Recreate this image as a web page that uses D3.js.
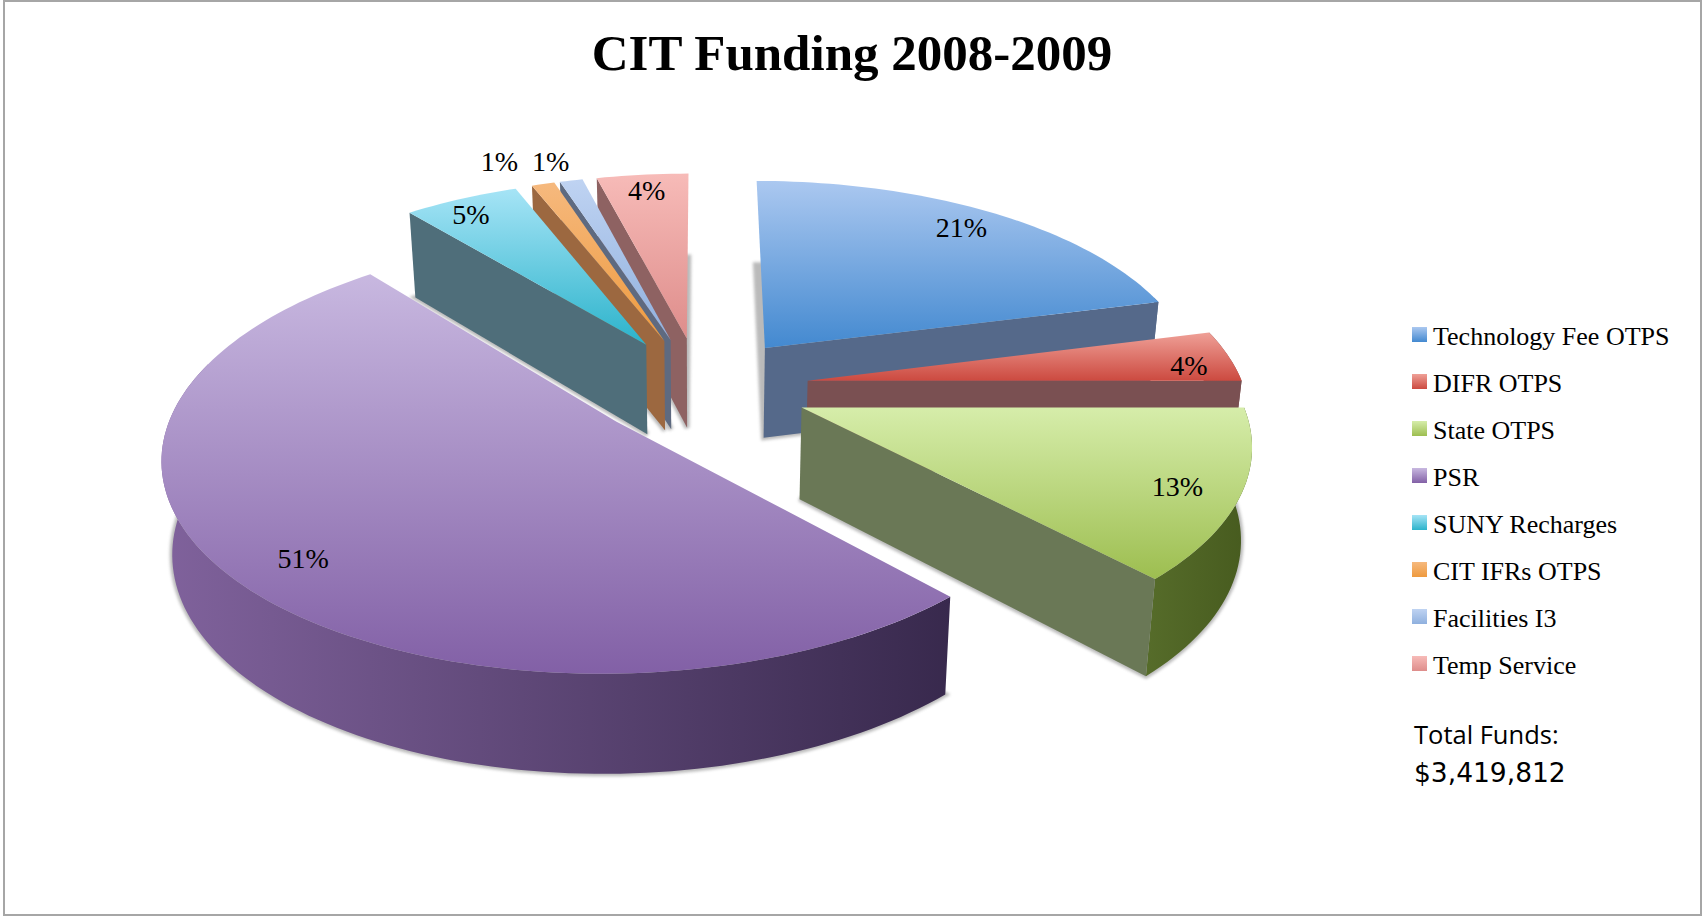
<!DOCTYPE html>
<html>
<head>
<meta charset="utf-8">
<title>CIT Funding 2008-2009</title>
<script src="https://cdn.jsdelivr.net/npm/d3@7"></script>
<style>
  html, body { margin: 0; padding: 0; background: #fff; }
  svg { display: block; }
</style>
</head>
<body>
<div id="chart"></div>
<script>
// Values as printed on the slices, clockwise from 12 o'clock
const categories = ['Technology Fee OTPS', 'DIFR OTPS', 'State OTPS', 'PSR', 'SUNY Recharges', 'CIT IFRs OTPS', 'Facilities I3', 'Temp Service'];
const percents = [21, 4, 13, 51, 5, 1, 1, 4];
const totalLines = ['Total Funds:', '$3,419,812'];

// Colours per slice: top gradient, cut wall, rim gradient
const topLight = ['#abc8f0', '#efa097', '#d6edaa', '#c8b8e0', '#a6e4f6', '#f6b97e', '#bfd3f2', '#f7bbb8'];
const topDark = ['#4389d0', '#cc4a40', '#9dbe50', '#8260a6', '#2bb3cb', '#ee9a3e', '#8fb0de', '#de8d8b'];
const wallColor = ['#55698a', '#7a5052', '#6a7856', '#3f2f57', '#4f6e7a', '#9c6840', '#5e6a80', '#8e6262'];
const rimLeft = ['#55698a', '#7a5052', '#566c2a', '#80629c', '#4f6e7a', '#9c6840', '#5e6a80', '#8e6262'];
const rimRight = ['#55698a', '#7a5052', '#465a1e', '#38294d', '#4f6e7a', '#9c6840', '#5e6a80', '#8e6262'];
// Where each percent label sits: radii from the slice tip, degrees off the slice middle
const labelRadius = [0.873, 0.895, 0.867, 0.851, 0.893, 1.196, 1.148, 0.894];
const labelTurn = [-0.7, 2.2, 0.8, -1.8, -1.5, -3.2, -1.1, 0];

const width = 1702;
const height = 916;
// These parameters set the tilted disc of the pie
const disc = {cx: 700, cy: 387, rx: 436, ry: 203, persp: 0.15, depth: 91, lean: 0.98, explode: 0.25};
const legend = {x: 1412, y: 327, size: 15, step: 47, textX: 1433};

const svg = d3.select('#chart').append('svg')
  .attr('width', width)
  .attr('height', height);

const defs = svg.append('defs');

// Soft shadow around the underside of each slice
defs.append('filter').attr('id', 'blur')
  .attr('x', '-10%').attr('y', '-10%').attr('width', '120%').attr('height', '120%')
  .append('feGaussianBlur')
  .attr('stdDeviation', 1.8);

function gradient(id, from, to, horizontal) {
  const g = defs.append('linearGradient').attr('id', id)
    .attr('x1', 0).attr('y1', 0)
    .attr('x2', horizontal ? 1 : 0).attr('y2', horizontal ? 0 : 1);
  g.append('stop').attr('offset', '0%').attr('stop-color', from);
  g.append('stop').attr('offset', '100%').attr('stop-color', to);
}

categories.forEach((c, i) => {
  gradient(`top${i}`, topLight[i], topDark[i], false);
  gradient(`rim${i}`, rimLeft[i], rimRight[i], true);
});

// Frame
svg.append('rect')
  .attr('x', 4).attr('y', 1)
  .attr('width', 1697).attr('height', 914)
  .attr('fill', 'none')
  .attr('stroke', '#a6a6a6')
  .attr('stroke-width', 2);

// Title
svg.append('text')
  .attr('x', 852)
  .attr('y', 70)
  .attr('text-anchor', 'middle')
  .style('font-family', '"Liberation Serif", serif')
  .style('font-weight', 'bold')
  .style('font-size', '51px')
  .attr('fill', '#000')
  .text('CIT Funding 2008-2009');

// Perspective projection of a point on the disc
function project(u, v) {
  const den = 1 - disc.persp * v;
  return {
    x: disc.cx + disc.rx * u / den,
    y: disc.cy + disc.ry * v / den,
    den: den
  };
}

// The same point pushed down to the underside of the pie
function lower(p) {
  return {
    x: disc.cx + (p.x - disc.cx) * disc.lean,
    y: p.y + disc.depth / Math.sqrt(p.den)
  };
}

const pie = d3.pie().sort(null).startAngle(0).endAngle(2 * Math.PI).value(d => d);
const arcs = pie(percents);
const line = d3.line().x(d => d.x).y(d => d.y);

function offsetOf(d) {
  const mid = (d.startAngle + d.endAngle) / 2;
  return {u: disc.explode * Math.sin(mid), v: -disc.explode * Math.cos(mid)};
}

function pointOn(d, angle, r) {
  const o = offsetOf(d);
  return project(o.u + r * Math.sin(angle), o.v - r * Math.cos(angle));
}

function rimAngles(d) {
  const n = Math.max(4, Math.ceil((d.endAngle - d.startAngle) * 40));
  return d3.range(n + 1).map(k => d.startAngle + (d.endAngle - d.startAngle) * k / n);
}

function rimPoints(d) {
  return rimAngles(d).map(a => pointOn(d, a, 1));
}

function labelPoint(d, i) {
  const mid = (d.startAngle + d.endAngle) / 2 + labelTurn[i] * Math.PI / 180;
  return pointOn(d, mid, labelRadius[i]);
}

// Rear slices first, PSR last
const drawOrder = [7, 6, 5, 4, 0, 1, 2, 3];

const slices = svg.append('g').selectAll('.slice')
  .data(drawOrder.map(i => Object.assign({}, arcs[i], {i: i})))
  .enter().append('g')
  .attr('class', 'slice');

// Shadow of the underside
slices.append('path')
  .attr('d', d => {
    const outline = [pointOn(d, 0, 0)].concat(rimPoints(d));
    return line(outline.map(lower)) + 'Z';
  })
  .attr('fill', '#777')
  .attr('stroke', '#777')
  .attr('stroke-width', 5)
  .attr('opacity', 0.5)
  .attr('filter', 'url(#blur)');

// Rim wall, only the part that faces the viewer
slices.append('path')
  .attr('d', d => {
    const rim = rimAngles(d)
      .filter(a => a > Math.PI / 2 - 0.3 && a < 3 * Math.PI / 2 + 0.3)
      .map(a => pointOn(d, a, 1));
    if (rim.length < 2) return null;
    return line(rim.concat(rim.map(lower).reverse())) + 'Z';
  })
  .attr('fill', d => `url(#rim${d.i})`);

// Cut wall that faces the viewer
slices.append('path')
  .attr('d', d => {
    const tip = pointOn(d, 0, 0);
    let angle = null;
    if (Math.sin(d.startAngle) < -1e-6) angle = d.startAngle;
    else if (Math.sin(d.endAngle) > 1e-6) angle = d.endAngle;
    if (angle === null) return null;
    const edge = pointOn(d, angle, 1);
    return line([tip, edge, lower(edge), lower(tip)]) + 'Z';
  })
  .attr('fill', d => wallColor[d.i]);

// Top surface
slices.append('path')
  .attr('d', d => line([pointOn(d, 0, 0)].concat(rimPoints(d))) + 'Z')
  .attr('fill', d => `url(#top${d.i})`);

// Percent labels
svg.append('g').selectAll('text')
  .data(arcs)
  .enter().append('text')
  .attr('x', (d, i) => labelPoint(d, i).x)
  .attr('y', (d, i) => labelPoint(d, i).y)
  .attr('text-anchor', 'middle')
  .attr('dominant-baseline', 'central')
  .style('font-family', '"Liberation Serif", serif')
  .style('font-size', '28px')
  .attr('fill', '#000')
  .text(d => `${d.data}%`);

// Legend
const y = d3.scalePoint()
  .domain(categories)
  .range([legend.y, legend.y + legend.step * (categories.length - 1)]);

const rows = svg.append('g').selectAll('g')
  .data(categories)
  .enter().append('g')
  .attr('transform', d => `translate(0,${y(d)})`);

rows.append('rect')
  .attr('x', legend.x)
  .attr('width', legend.size)
  .attr('height', legend.size)
  .attr('fill', (d, i) => `url(#top${i})`);

rows.append('text')
  .attr('x', legend.textX)
  .attr('y', 18)
  .style('font-family', '"Liberation Serif", serif')
  .style('font-size', '26px')
  .attr('fill', '#000')
  .text(d => d);

// Total funds note
svg.append('g').selectAll('text')
  .data(totalLines)
  .enter().append('text')
  .attr('x', 1414)
  .attr('y', (d, i) => 744 + i * 38)
  .style('font-family', (d, i) => i === 0 ? '"Open Sans", sans-serif' : '"DejaVu Sans", sans-serif')
  .style('font-size', (d, i) => i === 0 ? '25.5px' : '26.5px')
  .attr('fill', '#000')
  .text(d => d);
</script>
</body>
</html>
